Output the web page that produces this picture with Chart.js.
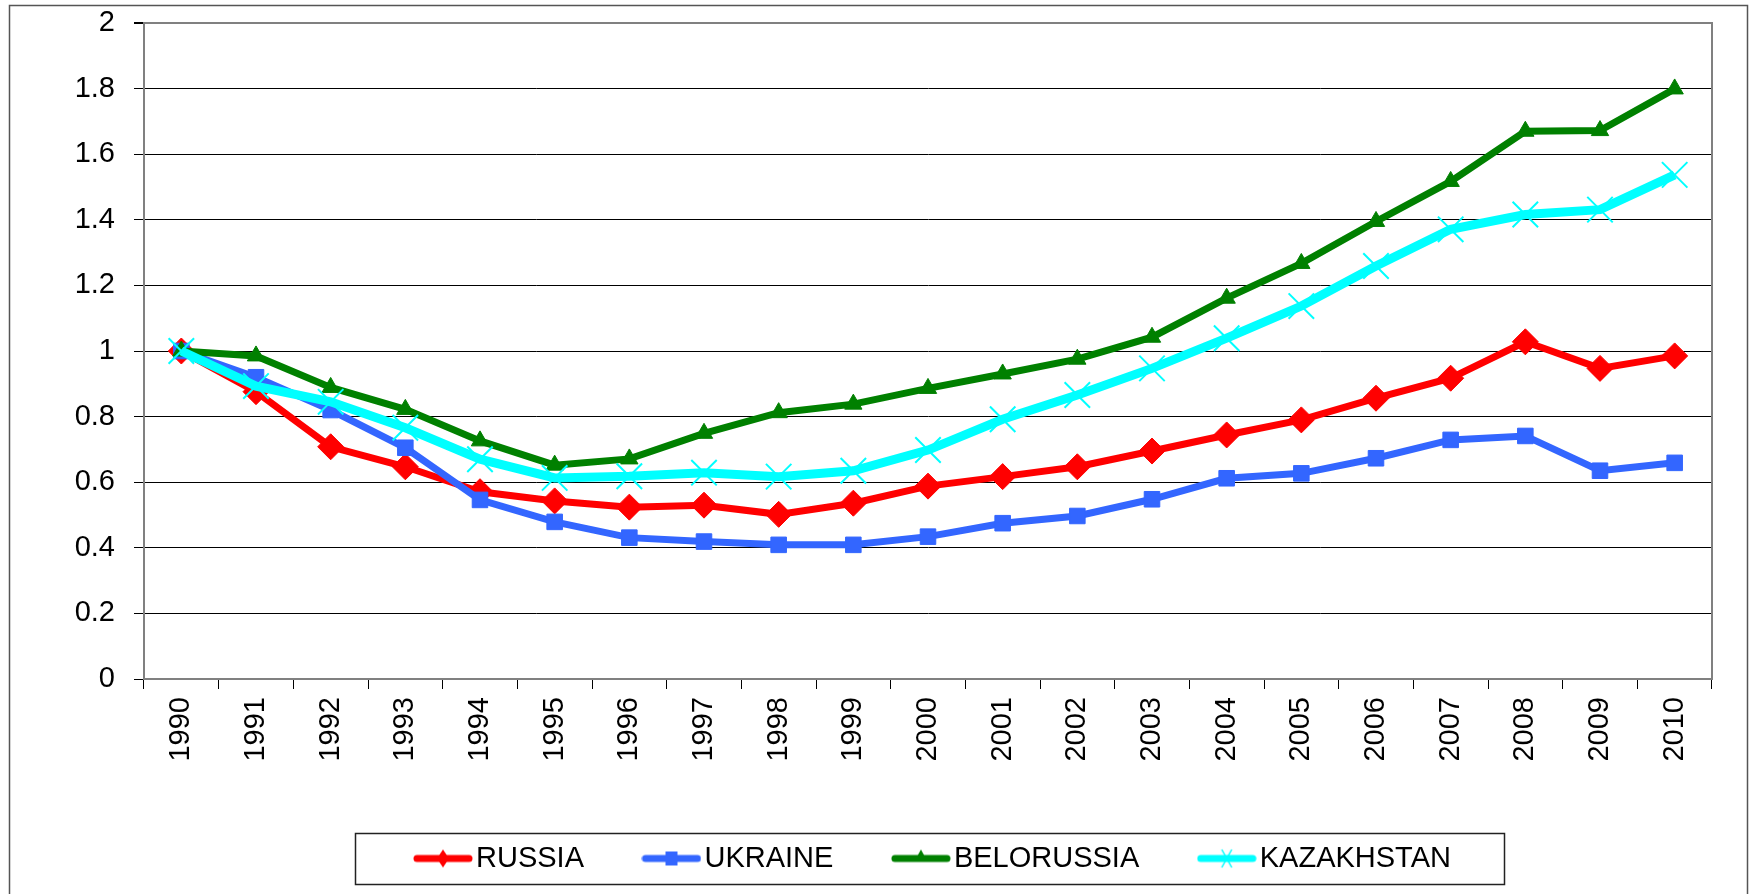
<!DOCTYPE html>
<html>
<head>
<meta charset="utf-8">
<script src="https://cdn.jsdelivr.net/npm/chart.js@4/dist/chart.umd.min.js"></script>
<style>
  body { margin: 0; background: #fff; }
  #wrap { width: 1752px; height: 894px; }
</style>
</head>
<body>
<div id="wrap"><canvas id="myChart" width="1752" height="894"></canvas></div>
<script>
//Datos
const years = ['1990','1991','1992','1993','1994','1995','1996','1997','1998','1999','2000',
  '2001','2002','2003','2004','2005','2006','2007','2008','2009','2010'];
const russia = [1.0, 0.876, 0.708, 0.647, 0.571, 0.543, 0.524, 0.530, 0.502, 0.536, 0.588,
  0.617, 0.647, 0.695, 0.744, 0.790, 0.856, 0.917, 1.028, 0.947, 0.985];
const ukraine = [1.0, 0.92, 0.82, 0.705, 0.546, 0.479, 0.431, 0.419, 0.409, 0.409, 0.434,
  0.475, 0.497, 0.548, 0.612, 0.627, 0.673, 0.729, 0.741, 0.635, 0.659];
const belorussia = [1.0, 0.985, 0.889, 0.822, 0.726, 0.652, 0.671, 0.749, 0.812, 0.838, 0.886,
  0.930, 0.975, 1.042, 1.161, 1.267, 1.395, 1.517, 1.670, 1.672, 1.799];
const kazakhstan = [1.0, 0.893, 0.845, 0.766, 0.670, 0.613, 0.618, 0.629, 0.617, 0.635, 0.698,
  0.792, 0.866, 0.947, 1.039, 1.137, 1.259, 1.371, 1.416, 1.431, 1.537];
const seriesNames = ['RUSSIA', 'UKRAINE', 'BELORUSSIA', 'KAZAKHSTAN'];
const yMin = 0;
const yMax = 2;
const yStep = 0.2;

const FONT = 'Liberation Sans, Arial, sans-serif';
const legendPad = 69;

//iconos de la leyenda: linea + marcador, como en Excel
const legendIcon = (color, style, width) => {
  const c = document.createElement('canvas');
  c.width = 60; c.height = 28;
  const g = c.getContext('2d');
  g.strokeStyle = color; g.fillStyle = color;
  g.lineCap = 'round'; g.lineWidth = width;
  g.beginPath(); g.moveTo(4, 14); g.lineTo(56, 14); g.stroke();
  g.beginPath();
  if (style === 'diamond') {
    g.moveTo(30, 5); g.lineTo(36, 14); g.lineTo(30, 23); g.lineTo(24, 14); g.closePath(); g.fill();
  } else if (style === 'square') {
    g.rect(24, 7, 12, 14); g.fill();
  } else if (style === 'triangle') {
    g.moveTo(30, 5); g.lineTo(36, 16); g.lineTo(24, 16); g.closePath(); g.fill();
  } else {
    g.lineWidth = 1.5; g.lineCap = 'butt';
    g.moveTo(25, 5); g.lineTo(35, 23); g.moveTo(35, 5); g.lineTo(25, 23); g.stroke();
  }
  return c;
};
const icons = [
  legendIcon('#ff0000', 'diamond', 7),
  legendIcon('#3366ff', 'square', 7),
  legendIcon('#008000', 'triangle', 7),
  legendIcon('#00ffff', 'cross', 7)
];

//marco exterior, borde del area y caja de la leyenda
const framePlugin = {
  id: 'frame',
  afterLayout(chart) {
    const lg = chart.legend;
    const firstX = (lg.left + legendPad + lg.right - lg.lineWidths[0]) / 2;
    const shift = 424.5 - firstX;
    lg.left += shift; lg.right += shift;
  },
  beforeDraw(chart) {
    const ctx = chart.ctx;
    ctx.save();
    ctx.strokeStyle = '#555'; ctx.lineWidth = 1.5;
    ctx.strokeRect(9.5, 5.5, 1738, 1000);
    ctx.restore();
  },
  beforeDatasetsDraw(chart) {
    const ctx = chart.ctx, a = chart.chartArea;
    ctx.save();
    ctx.strokeStyle = '#808080'; ctx.lineWidth = 2;
    ctx.beginPath(); ctx.moveTo(a.left, a.top); ctx.lineTo(a.right, a.top); ctx.lineTo(a.right, a.bottom); ctx.stroke();
    ctx.restore();
  },
  afterDraw(chart) {
    const hb = chart.legend.legendHitBoxes;
    if (!hb.length) return;
    const last = hb[hb.length - 1];
    const cy = hb[0].top + hb[0].height / 2;
    const ctx = chart.ctx;
    ctx.save();
    ctx.strokeStyle = '#222'; ctx.lineWidth = 1.5;
    const x0 = Math.round(hb[0].left - 70) + 0.5;
    const x1 = Math.round(last.left + last.width + 53) + 0.5;
    ctx.strokeRect(x0, Math.round(cy - 25.5) + 0.5, x1 - x0, 51);
    ctx.restore();
  }
};

const ctx = document.getElementById('myChart').getContext('2d');
const myChart = new Chart(ctx, {
  type: 'line',
  data: {
    labels: years,
    datasets: [
      { label: seriesNames[0], data: russia, borderColor: '#ff0000', backgroundColor: '#ff0000',
        borderWidth: 7, pointStyle: 'rectRot', pointRadius: 13, pointBorderWidth: 1, order: 3 },
      { label: seriesNames[1], data: ukraine, borderColor: '#3366ff', backgroundColor: '#3366ff',
        borderWidth: 7, pointStyle: 'rect', pointRadius: 11, pointBorderWidth: 1, order: 2 },
      { label: seriesNames[2], data: belorussia, borderColor: '#008000', backgroundColor: '#008000',
        borderWidth: 7, pointStyle: 'triangle', pointRadius: 10, pointBorderWidth: 1, order: 1 },
      { label: seriesNames[3], data: kazakhstan, borderColor: '#00ffff', backgroundColor: '#00ffff',
        borderWidth: 9, pointStyle: 'crossRot', pointRadius: 18, pointBorderWidth: 2, order: 0 }
    ]
  },
  options: {
    responsive: false,
    animation: false,
    devicePixelRatio: 1,
    layout: { padding: { left: 9, top: 23, right: 40, bottom: 11 } },
    plugins: {
      tooltip: { enabled: false },
      legend: {
        position: 'bottom',
        labels: {
          usePointStyle: true,
          pointStyleWidth: 37,
          padding: legendPad,
          color: '#000',
          font: { family: FONT, size: 29 },
          sort: (a, b) => a.datasetIndex - b.datasetIndex,
          generateLabels: (chart) => {
            const items = Chart.defaults.plugins.legend.labels.generateLabels(chart);
            items.forEach(it => { it.pointStyle = icons[it.datasetIndex]; });
            return items;
          }
        }
      }
    },
    scales: {
      x: {
        offset: true,
        afterFit: (scale) => { scale.height = 96; },
        grid: { offset: true, drawOnChartArea: false, tickLength: 10, tickColor: '#000', tickWidth: 1 },
        border: { color: '#808080', width: 2 },
        ticks: { minRotation: 90, maxRotation: 90, padding: 8, color: '#000', font: { family: FONT, size: 29 } }
      },
      y: {
        min: yMin,
        max: yMax,
        afterFit: (scale) => { scale.width = 135; scale.paddingTop = 0; },
        grid: {
          color: (c) => (c.tick && (c.tick.value === yMax || c.tick.value === yMin)) ? '#808080' : '#000',
          lineWidth: (c) => (c.tick && c.tick.value === yMax) ? 2 : 1,
          tickLength: 10, tickColor: '#000'
        },
        border: { color: '#808080', width: 2 },
        ticks: {
          stepSize: yStep, padding: 19, color: '#000', font: { family: FONT, size: 29 },
          callback: (v) => Number(v.toFixed(1))
        }
      }
    }
  },
  plugins: [framePlugin]
});
</script>
</body>
</html>
